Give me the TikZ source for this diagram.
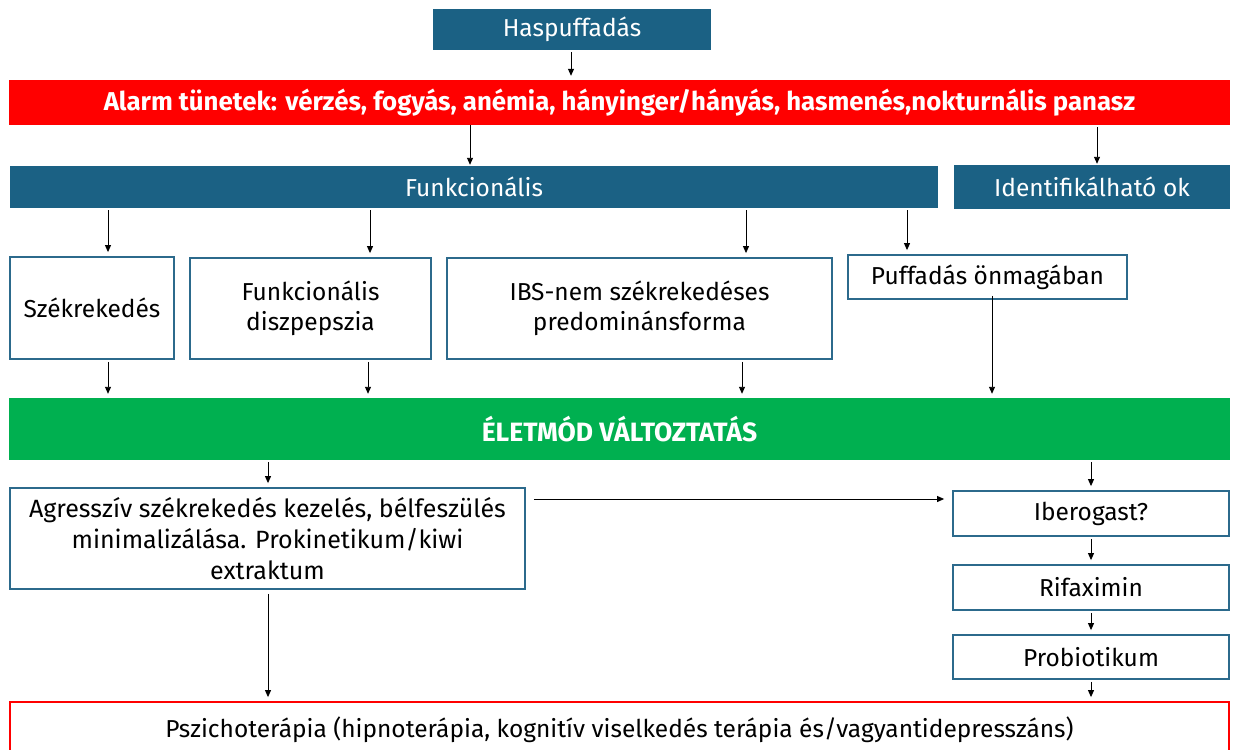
\documentclass[tikz,border=0pt]{standalone}
\usepackage{fontspec}
\setmainfont{Fira Sans}
\usetikzlibrary{arrows.meta,calc}
\definecolor{dblue}{HTML}{1B6184}
\definecolor{bborder}{HTML}{2C6A8C}
\definecolor{alarmred}{HTML}{FF0000}
\definecolor{lgreen}{HTML}{00B050}
\begin{document}
\begin{tikzpicture}[x=1pt,y=-1pt,
  txt/.style={font=\fontsize{24.5}{30}\selectfont, align=center, inner sep=0pt},
  bluebox/.style={txt, fill=dblue, text=white},
  wbox/.style={txt, draw=bborder, line width=1.8pt, fill=white, text=black},
  arr/.style={-{Triangle[length=7pt,width=6pt]}, line width=0.9pt, black, shorten <=2pt, shorten >=4pt}]
\clip (0,0) rectangle (1238,749);
\fill[white] (0,0) rectangle (1238,749);
% nodes
\node[bluebox, minimum width=278pt, minimum height=41pt] (hasp) at (572,29.5) {\raisebox{-1pt}{Haspuffadás}};
\node[txt, fill=alarmred, text=white, font=\fontsize{25.8}{30}\selectfont\bfseries, minimum width=1221pt, minimum height=45pt] (alarm) at (619.5,102.5) {Alarm tünetek: vérzés, fogyás, anémia, hányinger/hányás, hasmenés,nokturnális panasz};
\node[bluebox, minimum width=928pt, minimum height=42pt] (funk) at (474,187) {Funkcionális};
\node[bluebox, minimum width=276pt, minimum height=44pt] (ident) at (1092,187) {Identifikálható ok};
\node[wbox, minimum width=164pt, minimum height=102pt] (szek) at (92,308) {Székrekedés};
\node[wbox, minimum width=241pt, minimum height=101pt] (fd) at (310.5,308.5) {Funkcionális\\diszpepszia};
\node[wbox, minimum width=385pt, minimum height=101pt] (ibs) at (639.5,308.5) {IBS-nem székrekedéses\\predominánsforma};
\node[wbox, minimum width=279pt, minimum height=44pt] (puff) at (987.5,277) {Puffadás önmagában};
\node[txt, fill=lgreen, text=white, font=\fontsize{26.5}{30}\selectfont\bfseries, minimum width=1221pt, minimum height=62pt] (elet) at (619.5,429) {ÉLETMÓD VÁLTOZTATÁS};
\node[wbox, minimum width=515pt, minimum height=101pt, font=\fontsize{25}{31}\selectfont] (agr) at (267.5,538.5) {Agresszív székrekedés kezelés, bélfeszülés\\minimalizálása. Prokinetikum/kiwi\\extraktum};
\node[wbox, minimum width=276pt, minimum height=45pt] (iber) at (1091,513.5) {Iberogast?};
\node[wbox, minimum width=276pt, minimum height=45pt] (rifa) at (1091,587.5) {Rifaximin};
\node[wbox, minimum width=276pt, minimum height=44pt] (prob) at (1091,657) {Probiotikum};
\node[wbox, draw=alarmred, minimum width=1219pt, minimum height=56pt] (psz) at (619.5,730) {\raisebox{2pt}{Pszichoterápia (hipnoterápia, kognitív viselkedés terápia és/vagyantidepresszáns)}};
% x positions for arrows
\coordinate (xa) at (571,0);
\coordinate (xb) at (470,0);
\coordinate (xc) at (1097,0);
\coordinate (x1) at (108,0);
\coordinate (x2) at (370,0);
\coordinate (x3) at (746,0);
\coordinate (x4) at (907,0);
\coordinate (y1) at (108,0);
\coordinate (y2) at (368,0);
\coordinate (y3) at (742,0);
\coordinate (y4) at (992,0);
\coordinate (xl) at (268,0);
\coordinate (xr) at (1091,0);
\coordinate (yh) at (0,499);
% connectors
\draw[arr] (xa |- hasp.south) -- (xa |- alarm.north);
\draw[arr] ([yshift=2pt]xb |- alarm.south) -- ([yshift=-3pt]xb |- funk.north);
\draw[arr] (xc |- alarm.south) -- ([yshift=-3pt]xc |- ident.north);
\draw[arr] (x1 |- funk.south) -- (x1 |- szek.north);
\draw[arr] (x2 |- funk.south) -- (x2 |- fd.north);
\draw[arr] (x3 |- funk.south) -- (x3 |- ibs.north);
\draw[arr] (x4 |- funk.south) -- (x4 |- puff.north);
\draw[arr] (y1 |- szek.south) -- (y1 |- elet.north);
\draw[arr] (y2 |- fd.south) -- (y2 |- elet.north);
\draw[arr] (y3 |- ibs.south) -- (y3 |- elet.north);
\draw[arr] ([yshift=6pt]y4 |- puff.south) -- (y4 |- elet.north);
\draw[arr] (xl |- elet.south) -- (xl |- agr.north);
\draw[arr] (xr |- elet.south) -- (xr |- iber.north);
\draw[arr, shorten <=8pt, shorten >=8pt] (agr.east |- yh) -- (iber.west |- yh);
\draw[arr] (xr |- iber.south) -- (xr |- rifa.north);
\draw[arr] (xr |- rifa.south) -- (xr |- prob.north);
\draw[arr] (xr |- prob.south) -- (xr |- psz.north);
\draw[arr, shorten <=4pt] (xl |- agr.south) -- (xl |- psz.north);
\end{tikzpicture}
\end{document}
